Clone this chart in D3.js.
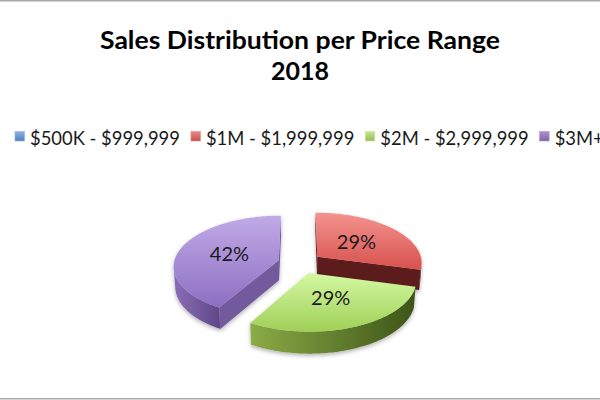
<!DOCTYPE html>
<html><head><meta charset="utf-8">
<script src="https://cdn.jsdelivr.net/npm/d3@7"></script>
<style>body{margin:0;background:#fff}svg{display:block}</style>
</head><body>
<svg id="c" width="600" height="400"></svg>
<script>
// ---- data ----
const titleLines = ["Sales Distribution per Price Range", "2018"];
const categories = ["$500K - $999,999", "$1M - $1,999,999", "$2M - $2,999,999", "$3M+"];
const values = [0, 7, 7, 10];
const legendColors = ["#4f81bd", "#c0504d", "#9bbb59", "#8064a2"];
const legendLight  = ["#8fb1e3", "#ea8a88", "#c9e690", "#ab93cf"];
const topLight  = ["#a9c4ea", "#f4938f", "#d4f8a2", "#c0aae7"];
const topDark   = ["#5f8fcf", "#d7514e", "#9fd057", "#8d6fc2"];
const sideLight = ["#3f6aa0", "#6c2422", "#8bac46", "#8a6db6"];
const sideDark  = ["#2c4b73", "#4b1615", "#3d5418", "#5e4887"];
const faceColor = ["#3a5f90", "#5b1c1b", "#5c7a2a", "#725a9c"];

// ---- setup ----
const W = 600, H = 400;
const svg = d3.select("#c");
const defs = svg.append("defs");

svg.append("line").attr("x1",0).attr("x2",W).attr("y1",0.75).attr("y2",0.75)
  .attr("stroke","#a8a8a8").attr("stroke-width",1.5);
svg.append("line").attr("x1",0).attr("x2",W).attr("y1",398.75).attr("y2",398.75)
  .attr("stroke","#a8a8a8").attr("stroke-width",1.5);

// title
const title = svg.append("text").attr("text-anchor","middle")
  .attr("font-family","Lato, 'Noto Sans', sans-serif").attr("font-weight","bold")
  .attr("font-size",25).attr("fill","#000");
title.append("tspan").attr("x",W/2).attr("y",49).text(titleLines[0]).attr("textLength",400).attr("lengthAdjust","spacingAndGlyphs");
title.append("tspan").attr("x",W/2).attr("y",80).text(titleLines[1]);

// legend
const legFont = 18.4;
let lx = 15;
categories.forEach((c,i)=>{
  const g = defs.append("linearGradient").attr("id","lg"+i).attr("x1",0).attr("y1",0).attr("x2",0).attr("y2",1);
  g.append("stop").attr("offset",0).attr("stop-color",legendLight[i]);
  g.append("stop").attr("offset",1).attr("stop-color",legendColors[i]);
  svg.append("rect").attr("x",lx).attr("y",131.5).attr("width",9.5).attr("height",9.5)
    .attr("fill","url(#lg"+i+")").attr("stroke",legendLight[i]).attr("stroke-width",0.6);
  const t = svg.append("text").attr("x",lx+15).attr("y",144.5)
    .attr("font-family","Lato, 'Noto Sans', sans-serif").attr("font-size",legFont)
    .attr("fill","#1a1a1a").text(c);
  const w = t.node().getComputedTextLength();
  lx += 15 + w + 11;
});

// ---- 3D pie ----
const phi = 28.5*Math.PI/180, Dist = 8.1, Foc = 850, Thick = 0.22, Expl = 0.21;
const cx = 300, cy = 263;
const xs = d3.scaleLinear().domain([0,1]).range([cx, cx+Foc]);
const ys = d3.scaleLinear().domain([0,1]).range([cy, cy-Foc]);
function proj(X, Z, Y){
  const yp = Y*Math.cos(phi) + Z*Math.sin(phi);
  const zp = Z*Math.cos(phi) - Y*Math.sin(phi);
  const d = Dist + zp;
  return [xs(X/d), ys(yp/d)];
}
function sarea(p){let s=0;for(let i=0;i<p.length;i++){const a=p[i],b=p[(i+1)%p.length];s+=a[0]*b[1]-b[0]*a[1];}return s/2;}
const line = d3.line();
const poly = p => line(p)+"Z";

const pie = d3.pie().sort(null).value(d=>d).startAngle(0).endAngle(2*Math.PI);
const arcs = pie(values).map((a,i)=>({...a, i}));
const total = d3.sum(values);
const pct = d3.format(".0%");

const shadow = defs.append("filter").attr("id","sh").attr("x","-20%").attr("y","-20%").attr("width","140%").attr("height","150%");
shadow.append("feDropShadow").attr("dx",0).attr("dy",2).attr("stdDeviation",2.2)
  .attr("flood-color","#000").attr("flood-opacity",0.3);

const slices = arcs.filter(a=>a.value>0).map(a=>{
  const mid = (a.startAngle+a.endAngle)/2;
  return {...a, mid, ox: Expl*Math.sin(mid), oz: Expl*Math.cos(mid)};
}).sort((p,q)=>q.oz-p.oz);

const pieG = svg.append("g");
slices.forEach(s=>{
  const i = s.i;
  const rim = (t,Y)=>proj(s.ox+Math.sin(t), s.oz+Math.cos(t), Y);
  const apex = Y=>proj(s.ox, s.oz, Y);
  const n = Math.max(4, Math.ceil((s.endAngle-s.startAngle)/(Math.PI/180)));
  const thetas = d3.range(n+1).map(k=>s.startAngle+(s.endAngle-s.startAngle)*k/n);

  const gt = defs.append("linearGradient").attr("id","gt"+i).attr("x1",0).attr("y1",0).attr("x2",0).attr("y2",1);
  gt.append("stop").attr("offset",0).attr("stop-color",topLight[i]);
  gt.append("stop").attr("offset",1).attr("stop-color",topDark[i]);
  const gs = defs.append("linearGradient").attr("id","gs"+i).attr("x1",0).attr("y1",0).attr("x2",1).attr("y2",0);
  gs.append("stop").attr("offset",0).attr("stop-color",sideLight[i]);
  gs.append("stop").attr("offset",1).attr("stop-color",sideDark[i]);

  const g = pieG.append("g").attr("filter","url(#sh)");
  const f0 = [apex(0), apex(-Thick), rim(s.startAngle,-Thick), rim(s.startAngle,0)];
  const f1 = [apex(0), rim(s.endAngle,0), rim(s.endAngle,-Thick), apex(-Thick)];
  [f0,f1].forEach(f=>{ if (sarea(f)>0) g.append("path").attr("d",poly(f)).attr("fill",faceColor[i]); });
  let run = [];
  const runs = [];
  for (let k=0;k<n;k++){
    const q = [rim(thetas[k],0), rim(thetas[k],-Thick), rim(thetas[k+1],-Thick), rim(thetas[k+1],0)];
    if (sarea(q)>0){ run.push(k); } else if (run.length){ runs.push(run); run=[]; }
  }
  if (run.length) runs.push(run);
  runs.forEach(r=>{
    const ts = thetas.slice(r[0], r[r.length-1]+2);
    const pts = ts.map(t=>rim(t,0)).concat(ts.slice().reverse().map(t=>rim(t,-Thick)));
    g.append("path").attr("d",poly(pts)).attr("fill","url(#gs"+i+")");
  });
  const top = [apex(0)].concat(thetas.map(t=>rim(t,0)));
  g.append("path").attr("d",poly(top)).attr("fill","url(#gt"+i+")");
  const lp = proj(s.ox+0.5*Math.sin(s.mid), s.oz+0.5*Math.cos(s.mid), 0);
  svg.append("text").attr("x",lp[0]).attr("y",lp[1]).attr("dy","0.35em")
    .attr("text-anchor","middle").attr("font-family","Lato, 'Noto Sans', sans-serif")
    .attr("font-size",20).attr("fill","#1a1a1a").text(pct(s.value/total));
});
</script>
</body></html>
